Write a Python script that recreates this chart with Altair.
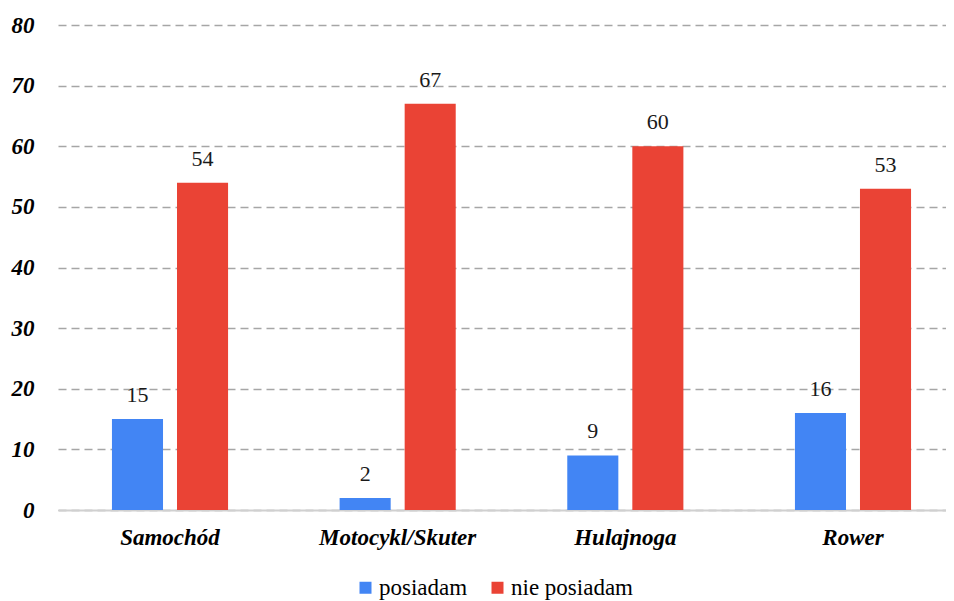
import altair as alt
import pandas as pd

categories = ["Samochód", "Motocykl/Skuter", "Hulajnoga", "Rower"]
series = ["posiadam", "nie posiadam"]
posiadam = [15, 2, 9, 16]
nie_posiadam = [54, 67, 60, 53]
colors = ["#4285F4", "#EA4335"]
y_ticks = [0, 10, 20, 30, 40, 50, 60, 70, 80]

rows = []
for c, a, b in zip(categories, posiadam, nie_posiadam):
    rows.append({"kat": c, "seria": series[0], "wartosc": a})
    rows.append({"kat": c, "seria": series[1], "wartosc": b})
df = pd.DataFrame(rows)

FONT = "Liberation Serif"

x = alt.X(
    "kat:N", sort=categories, title=None,
    scale=alt.Scale(range=[0, 907], paddingInner=0.49, paddingOuter=0.237),
    axis=alt.Axis(labelFontSize=23, labelFontStyle="italic",
                  labelFontWeight="bold", labelColor="black", labelAngle=0,
                  labelPadding=16, ticks=False, domainColor="#d0d0d0", domainWidth=2,
                  grid=False),
)
xo = alt.XOffset("seria:N", sort=series,
                 scale=alt.Scale(domain=series, paddingInner=0.215, paddingOuter=0))
y = alt.Y(
    "wartosc:Q", title=None,
    scale=alt.Scale(domain=[0, 80], nice=False),
    axis=alt.Axis(values=y_ticks, labelFontSize=23, labelFontStyle="italic",
                  labelFontWeight="bold", labelColor="black", labelPadding=24,
                  ticks=False, domain=False, grid=True, gridColor="#a6a6a6",
                  gridDash=[8, 5], gridWidth=1.3),
)
color = alt.Color(
    "seria:N", sort=series,
    scale=alt.Scale(domain=series, range=colors),
    legend=alt.Legend(orient="none", legendX=296, legendY=551, direction="horizontal",
                      title=None, symbolType="square", symbolSize=144,
                      symbolStrokeWidth=0, labelFontSize=23,
                      labelColor="black", columnPadding=18, labelOffset=2),
)

base = alt.Chart(df)
bars = base.mark_bar().encode(x=x, xOffset=xo, y=y, color=color)
labels = base.mark_text(dy=-17, baseline="alphabetic", fontSize=22,
                        color="#1a1a1a").encode(
    x=x, xOffset=xo, y=y, text="wartosc:Q"
)

chart = alt.layer(bars, labels).properties(
    width=888, height=485,
    autosize=alt.AutoSizeParams(type="none"),
    padding={"left": 50, "top": 17, "right": 0, "bottom": 92},
).configure(font=FONT).configure_view(stroke=None)

chart.save("out.html", embed_options={"renderer": "svg", "actions": False})
